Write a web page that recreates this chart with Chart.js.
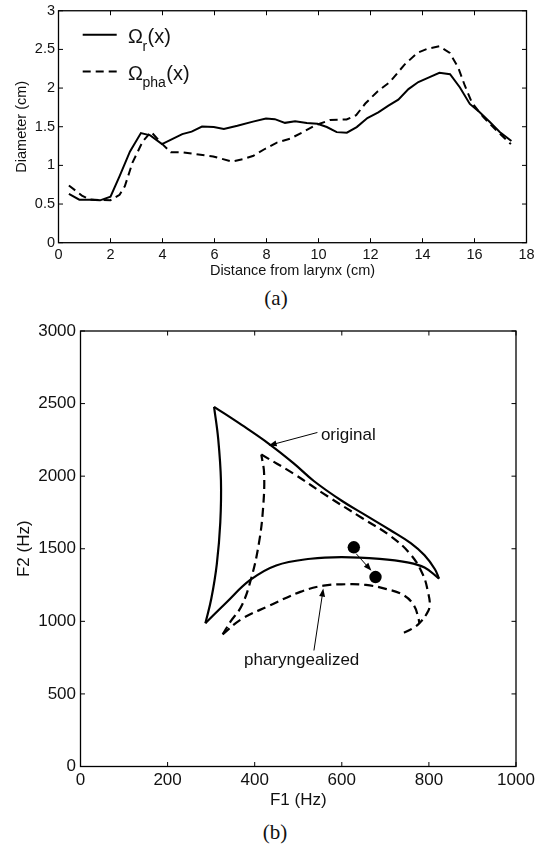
<!DOCTYPE html>
<html><head><meta charset="utf-8">
<script src="https://cdn.jsdelivr.net/npm/chart.js@4.4.1/dist/chart.umd.min.js"></script>
<style>
html,body{margin:0;padding:0;background:#fff;}
#wrap{position:relative;width:541px;height:845px;overflow:hidden;background:#fff;}
canvas{position:absolute;left:0;}
#cA{top:0;} #cB{top:312px;}
.cap{position:absolute;font-family:"Liberation Serif","Times New Roman",serif;font-size:21px;color:#111;width:60px;text-align:center;line-height:21px;}
</style></head><body>
<div id="wrap">
<canvas id="cA" width="541" height="285"></canvas>
<div class="cap" style="left:246px;top:288px">(a)</div>
<canvas id="cB" width="541" height="500"></canvas>
<div class="cap" style="left:245px;top:822px">(b)</div>
</div>
<script>
// ---------- Panel (a): diameter vs distance from larynx ----------
const omegaRX = [0.4,0.8,1.2,1.6,2.0,2.35,2.75,3.17,3.53,3.98,4.37,4.76,5.12,5.52,5.97,6.36,6.88,7.48,7.98,8.32,8.71,9.1,9.55,9.96,10.32,10.7,11.09,11.47,11.88,12.3,12.69,13.07,13.46,13.84,14.23,14.65,15.06,15.44,15.82,16.2,16.59,16.97,17.42];
const omegaRY = [0.63,0.556,0.556,0.548,0.595,0.86,1.18,1.418,1.388,1.275,1.34,1.405,1.437,1.503,1.495,1.47,1.512,1.566,1.605,1.598,1.55,1.572,1.548,1.538,1.496,1.43,1.423,1.495,1.613,1.685,1.772,1.85,1.987,2.078,2.136,2.198,2.18,2.008,1.795,1.688,1.56,1.432,1.315];
const omegaPhaX = [0.4,0.9,1.2,1.6,2.0,2.35,2.55,2.85,3.24,3.56,3.95,4.32,4.8,5.3,5.95,6.66,7.1,7.5,7.95,8.4,8.9,9.35,9.85,10.44,11.08,11.45,11.8,12.25,12.75,13.3,13.8,14.2,14.65,15.05,15.38,15.63,15.9,16.35,16.85,17.4];
const omegaPhaY = [0.74,0.61,0.56,0.552,0.55,0.62,0.73,1.04,1.31,1.435,1.29,1.17,1.168,1.145,1.115,1.05,1.08,1.125,1.215,1.295,1.345,1.42,1.515,1.586,1.594,1.65,1.8,1.95,2.08,2.3,2.455,2.51,2.54,2.455,2.26,2.03,1.81,1.62,1.45,1.275];
const xTicksA = [0,2,4,6,8,10,12,14,16,18];
const yTicksA = [0,0.5,1,1.5,2,2.5,3];
const legendA = [
  {main:'Ω', sub:'r', tail:'(x)', dashed:false},
  {main:'Ω', sub:'pha', tail:'(x)', dashed:true}
];

// ---------- Panel (b): F1-F2 plane (vowel triangle edges) ----------
// original: edge i->u, edge u->a, edge a->i
const origLeftF1 = [306.7,316.2,322.5,321,313,300.3,286.8];
const origLeftF2 = [2477.7,2257,1969.6,1682,1394.5,1155,987.2];
const origLowF1 = [286.8,335,389.8,449.3,528.5,599.8,687,750.4,790,823.3];
const origLowF2 = [987.2,1130,1285,1385,1431,1442.5,1430.5,1406.6,1370.7,1294];
const origUpF1 = [823.3,813.8,790,758.3,710.8,655.3,599.8,536.5,488.9,433.4,370,306.7];
const origUpF2 = [1294,1358.7,1454.5,1538.4,1629.4,1730,1830.8,1965,2090,2221.2,2353,2477.7];
// pharyngealized
const pharLeftF1 = [326.5,344.7,370,392.2,409.7,419.2,421.6,415.2];
const pharLeftF2 = [910.6,999.2,1107,1298.7,1538.4,1778,2017.6,2149.4];
const pharUpF1 = [415.2,488.9,568.1,647.4,710.8,758.3,786.1,797.9,801.9,794,778.1,762.3,738.5];
const pharUpF2 = [2149.4,2017.6,1860,1710,1590,1460,1322.7,1202.9,1107,1047,987.2,951.3,915.4];
const pharLowF1 = [326.5,370,433.4,504.8,557.8,607.8,655.3,702.9,742.5,766.2,775.8,778.1];
const pharLowF2 = [910.6,1016,1107,1203,1246,1255.6,1250.8,1222,1179,1107,1023,987.2];
const vowelF1 = [627.6,677.4];
const vowelF2 = [1510,1305];
const xTicksB = [0,200,400,600,800,1000];
const yTicksB = [0,500,1000,1500,2000,2500,3000];
const labelsB = [
  {text:'original', at:[552,2281], from:[544,2301], to:[432,2211]},
  {text:'pharyngealized', at:[375.4,731], from:[536,799], to:[557.5,1226]},
  {text:'', at:null, from:[633,1466], to:[668,1348]}
];

const SANS = "'Liberation Sans', Arial, Helvetica, sans-serif";
const INK = '#111';
const toXY = (xs, ys) => xs.map((x, i) => ({x, y: ys[i]}));

const framePlugin = {
  id: 'frame',
  afterDraw(chart) {
    const {ctx, chartArea: a, scales: {x, y}} = chart;
    ctx.save();
    ctx.strokeStyle = '#000';
    ctx.setLineDash([]);
    ctx.lineWidth = 1.3;
    ctx.strokeRect(a.left, a.top, a.right - a.left, a.bottom - a.top);
    const L = 4.5;
    ctx.lineWidth = 1;
    ctx.beginPath();
    x.ticks.forEach(t => {
      const p = x.getPixelForValue(t.value);
      ctx.moveTo(p, a.bottom); ctx.lineTo(p, a.bottom - L);
      ctx.moveTo(p, a.top); ctx.lineTo(p, a.top + L);
    });
    y.ticks.forEach(t => {
      const p = y.getPixelForValue(t.value);
      ctx.moveTo(a.left, p); ctx.lineTo(a.left + L, p);
      ctx.moveTo(a.right, p); ctx.lineTo(a.right - L, p);
    });
    ctx.stroke();
    ctx.restore();
  }
};

function axisOpts(min, max, ticks, title, size, tickPad, titlePad, fitKey, fitVal) {
  return {
    type: 'linear', min, max,
    afterBuildTicks: s => { s.ticks = ticks.map(v => ({value: v})); },
    grid: {display: false, drawTicks: false},
    border: {display: false},
    ticks: {padding: tickPad, color: INK, autoSkip: false, maxRotation: 0,
            font: {family: SANS, size, lineHeight: 1}, callback: v => String(v)},
    title: {display: true, text: title, color: INK, padding: titlePad,
            font: {family: SANS, size, lineHeight: 1}},
    afterFit: s => { s[fitKey] = fitVal; }
  };
}

// ---------- Chart (a) ----------
const legendPluginA = {
  id: 'legendA',
  afterDraw(chart) {
    const {ctx, chartArea: a} = chart;
    ctx.save();
    legendA.forEach((it, i) => {
      const yl = a.top + 24 + i * 36.7;
      ctx.strokeStyle = '#000';
      ctx.lineWidth = 2;
      ctx.setLineDash(it.dashed ? [8, 5] : []);
      ctx.beginPath();
      ctx.moveTo(a.left + 24.2, yl); ctx.lineTo(a.left + 58.2, yl);
      ctx.stroke();
      ctx.setLineDash([]);
      ctx.fillStyle = INK;
      ctx.textBaseline = 'alphabetic';
      ctx.textAlign = 'left';
      let x0 = a.left + 69.5;
      ctx.font = `20px ${SANS}`;
      ctx.fillText(it.main, x0, yl + 8.4);
      x0 += ctx.measureText(it.main).width - 0.5;
      ctx.font = `14px ${SANS}`;
      ctx.fillText(it.sub, x0, yl + 16);
      x0 += ctx.measureText(it.sub).width + 0.5;
      ctx.font = `20px ${SANS}`;
      ctx.fillText(it.tail, x0, yl + 8.4);
    });
    ctx.restore();
  }
};

new Chart(document.getElementById('cA'), {
  type: 'scatter',
  data: {datasets: [
    {label: 'Ωr(x)', data: toXY(omegaRX, omegaRY), showLine: true, borderColor: '#000',
     borderWidth: 2, pointRadius: 0, tension: 0, fill: false},
    {label: 'Ωpha(x)', data: toXY(omegaPhaX, omegaPhaY), showLine: true, borderColor: '#000',
     borderWidth: 2, borderDash: [8, 5], pointRadius: 0, tension: 0, fill: false}
  ]},
  options: {
    responsive: false, animation: false, events: [],
    layout: {padding: {top: 9.3, right: 14.5, left: 0, bottom: 0}},
    plugins: {legend: {display: false}, tooltip: {enabled: false}},
    scales: {
      x: axisOpts(0, 18, xTicksA, 'Distance from larynx (cm)', 14.5, 5.3, {top: 0, bottom: 6.7}, 'height', 42.3),
      y: axisOpts(0, 3, yTicksA, 'Diameter (cm)', 14.5, 3.5, {top: 14.4, bottom: 0}, 'width', 58.5)
    }
  },
  plugins: [framePlugin, legendPluginA]
});

// ---------- Chart (b) ----------
function arrow(ctx, x1, y1, x2, y2) {
  const ang = Math.atan2(y2 - y1, x2 - x1);
  const len = 8, hw = 3;
  ctx.beginPath();
  ctx.moveTo(x1, y1);
  ctx.lineTo(x2 - Math.cos(ang) * len * 0.8, y2 - Math.sin(ang) * len * 0.8);
  ctx.stroke();
  ctx.beginPath();
  ctx.moveTo(x2, y2);
  ctx.lineTo(x2 - Math.cos(ang) * len + Math.sin(ang) * hw, y2 - Math.sin(ang) * len - Math.cos(ang) * hw);
  ctx.lineTo(x2 - Math.cos(ang) * len - Math.sin(ang) * hw, y2 - Math.sin(ang) * len + Math.cos(ang) * hw);
  ctx.closePath();
  ctx.fill();
}
const annotPluginB = {
  id: 'annotB',
  afterDatasetsDraw(chart) {
    const {ctx, scales: {x, y}} = chart;
    ctx.save();
    ctx.strokeStyle = '#000';
    ctx.fillStyle = '#000';
    ctx.lineWidth = 1;
    ctx.setLineDash([]);
    labelsB.forEach(l => {
      arrow(ctx, x.getPixelForValue(l.from[0]), y.getPixelForValue(l.from[1]),
                 x.getPixelForValue(l.to[0]), y.getPixelForValue(l.to[1]));
      if (l.text) {
        ctx.font = `17px ${SANS}`;
        ctx.fillStyle = INK;
        ctx.textAlign = 'left';
        ctx.textBaseline = 'middle';
        ctx.fillText(l.text, x.getPixelForValue(l.at[0]), y.getPixelForValue(l.at[1]));
        ctx.fillStyle = '#000';
      }
    });
    ctx.restore();
  }
};

const edge = (label, xs, ys, dashed) => ({
  label, data: toXY(xs, ys), showLine: true, borderColor: '#000', borderWidth: 2.2,
  borderDash: dashed ? [9, 5] : [], pointRadius: 0, tension: 0.4, fill: false
});

new Chart(document.getElementById('cB'), {
  type: 'scatter',
  data: {datasets: [
    edge('original i-u', origLeftF1, origLeftF2, false),
    edge('original u-a', origLowF1, origLowF2, false),
    edge('original a-i', origUpF1, origUpF2, false),
    edge('pharyngealized u-i', pharLeftF1, pharLeftF2, true),
    edge('pharyngealized i-a', pharUpF1, pharUpF2, true),
    edge('pharyngealized u-a', pharLowF1, pharLowF2, true),
    {label: 'vowel', data: toXY(vowelF1, vowelF2), showLine: false, pointRadius: 6.2,
     pointBackgroundColor: '#000', pointBorderColor: '#000', pointBorderWidth: 0}
  ]},
  options: {
    responsive: false, animation: false, events: [],
    layout: {padding: {top: 19, right: 25, left: 0, bottom: 0}},
    plugins: {legend: {display: false}, tooltip: {enabled: false}},
    scales: {
      x: axisOpts(0, 1000, xTicksB, 'F1 (Hz)', 17, 5, {top: 0, bottom: 3.5}, 'height', 45.5),
      y: axisOpts(0, 3000, yTicksB, 'F2 (Hz)', 17, 4.5, {top: 15.7, bottom: 0}, 'width', 80.5)
    }
  },
  plugins: [framePlugin, annotPluginB]
});
</script>
</body></html>
